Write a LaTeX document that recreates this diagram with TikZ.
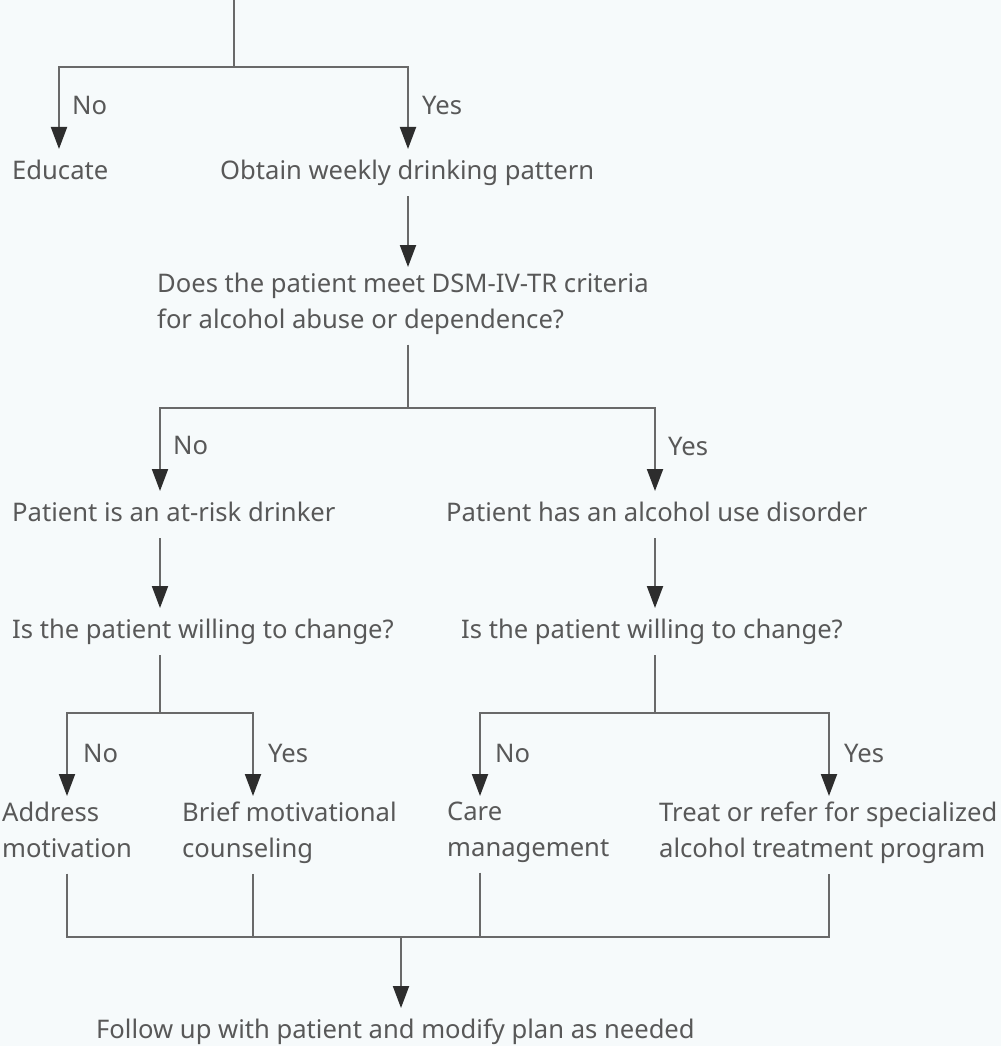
\documentclass[tikz,border=0pt]{standalone}
\usepackage{fontspec}
\setmainfont{Noto Sans}
\usetikzlibrary{arrows.meta}
\definecolor{bgcol}{RGB}{246,250,251}
\definecolor{txtcol}{RGB}{88,88,88}
\definecolor{linecol}{RGB}{105,105,105}
\definecolor{tipcol}{RGB}{45,45,45}
\tikzset{
  flowtext/.style={anchor=north west, inner xsep=0pt, inner ysep=5.5pt, align=left,
    text=txtcol, font=\fontsize{25.6}{36}\selectfont,
    execute at begin node=\strut, execute at end node=\strut},
  flowlabel/.style={anchor=base west, inner sep=0pt, text=txtcol, font=\fontsize{25.6}{36}\selectfont},
  flowline/.style={draw=linecol, line width=2pt},
  flowarrow/.style={flowline, -{Triangle[length=22pt,width=16pt,color=tipcol]}},
}
\begin{document}
\begin{tikzpicture}[x=1pt,y=-1pt]
	\fill[bgcol] (0,0) rectangle (1001,1046);
	\useasboundingbox (0,0) rectangle (1001,1046);
	% junctions
	\coordinate (entry) at (234,0);
	\coordinate (J0) at (234,67);
	\coordinate (J1) at (408,408);
	\coordinate (J2l) at (160,713);
	\coordinate (J2r) at (655,713);
	\coordinate (J3) at (401,937);
	\coordinate (Cedu) at (59,67);
	\coordinate (Cobt) at (408,67);
	\coordinate (Crisk) at (160,408);
	\coordinate (Caud) at (655,408);
	\coordinate (Caddr) at (67,713);
	\coordinate (Cbrief) at (253,713);
	\coordinate (Ccare) at (480,713);
	\coordinate (Ctreat) at (829,713);
	% texts
	\node[flowtext] (edu) at (12,149) {Educate};
	\node[flowtext] (obt) at (220,149) {Obtain weekly drinking pattern};
	\node[flowtext] (dsm) at (157,267) {Does the patient meet DSM-IV-TR criteria\\for alcohol abuse or dependence?};
	\node[flowtext] (risk) at (12,491) {Patient is an at-risk drinker};
	\node[flowtext] (aud) at (446,491) {Patient has an alcohol use disorder};
	\node[flowtext] (willl) at (12,608) {Is the patient willing to change?};
	\node[flowtext] (willr) at (461,608) {Is the patient willing to change?};
	\node[flowtext] (addr) at (2,796) {Address\\motivation};
	\node[flowtext] (brief) at (182,796) {Brief motivational\\counseling};
	\node[flowtext] (care) at (447,796) {Care\\management};
	\node[flowtext] (treat) at (659,796) {Treat or refer for specialized\\alcohol treatment program};
	\node[flowtext] (follow) at (96,1008) {Follow up with patient and modify plan as needed};
	% branch labels
	\node[flowlabel] (no0) at (72,114) {No};
	\node[flowlabel] (yes0) at (422,114) {Yes};
	\node[flowlabel] (no1) at (173,454) {No};
	\node[flowlabel] (yes1) at (668,455) {Yes};
	\node[flowlabel] (no2) at (83,762) {No};
	\node[flowlabel] (yes2) at (268,762) {Yes};
	\node[flowlabel] (no3) at (495,762) {No};
	\node[flowlabel] (yes3) at (844,762) {Yes};
	% connectors
	\draw[flowline] (entry) -- (J0);
	\draw[flowarrow] (J0) -| (Cedu |- edu.north);
	\draw[flowarrow] (J0) -| (Cobt |- obt.north);
	\draw[flowarrow] (Cobt |- obt.south) -- (Cobt |- dsm.north);
	\draw[flowline] (J1 |- dsm.south) -- (J1);
	\draw[flowarrow] (J1) -| (Crisk |- risk.north);
	\draw[flowarrow] (J1) -| (Caud |- aud.north);
	\draw[flowarrow] (Crisk |- risk.south) -- (Crisk |- willl.north);
	\draw[flowarrow] (Caud |- aud.south) -- (Caud |- willr.north);
	\draw[flowline] (J2l |- willl.south) -- (J2l);
	\draw[flowline] (J2r |- willr.south) -- (J2r);
	\draw[flowarrow] (J2l) -| (Caddr |- addr.north);
	\draw[flowarrow] (J2l) -| (Cbrief |- brief.north);
	\draw[flowarrow] (J2r) -| (Ccare |- care.north);
	\draw[flowarrow] (J2r) -| (Ctreat |- treat.north);
	\draw[flowline] (Caddr |- addr.south) -- (Caddr |- J3) -- (Ctreat |- J3) -- (Ctreat |- treat.south);
	\draw[flowline] (Cbrief |- brief.south) -- (Cbrief |- J3);
	\draw[flowline] (Ccare |- care.south) -- (Ccare |- J3);
	\draw[flowarrow] (J3) -- (J3 |- follow.north);
\end{tikzpicture}
\end{document}
